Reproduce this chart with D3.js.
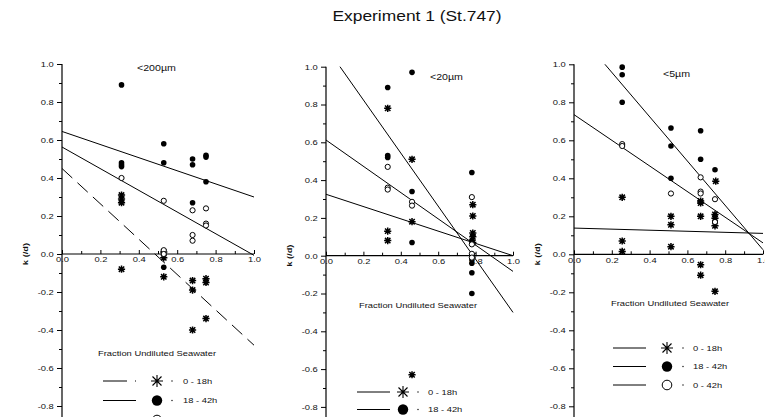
<!DOCTYPE html>
<html>
<head>
<meta charset="utf-8">
<script src="https://cdn.jsdelivr.net/npm/d3@7"></script>
<style>
body { margin: 0; background: #fff; }
text { font-family: "Liberation Sans", Arial, sans-serif; fill: #111; }
</style>
</head>
<body>
<script>
// series names and tick labels
var groups = ["0 - 18h", "18 - 42h", "0 - 42h"]
var panelNames = ["<200µm", "<20µm", "<5µm"]
var xTicks = [0, 0.2, 0.4, 0.6, 0.8, 1.0]
var yTicks = [-0.8, -0.6, -0.4, -0.2, 0, 0.2, 0.4, 0.6, 0.8, 1.0]

// <200µm : fraction undiluted seawater (x) vs k (/d)
var p1StarX = [0.31, 0.31, 0.31, 0.31, 0.53, 0.53, 0.53, 0.68, 0.68, 0.68, 0.75, 0.75, 0.75]
var p1StarK = [0.31, 0.29, 0.27, -0.08, 0.01, -0.02, -0.12, -0.14, -0.19, -0.40, -0.13, -0.15, -0.34]
var p1FillX = [0.31, 0.31, 0.31, 0.31, 0.53, 0.53, 0.53, 0.68, 0.68, 0.68, 0.75, 0.75, 0.75]
var p1FillK = [0.89, 0.48, 0.47, 0.46, 0.58, 0.48, -0.07, 0.50, 0.47, 0.27, 0.52, 0.51, 0.38]
var p1OpenX = [0.31, 0.53, 0.53, 0.53, 0.68, 0.68, 0.68, 0.75, 0.75, 0.75]
var p1OpenK = [0.40, 0.28, 0.02, 0.00, 0.23, 0.10, 0.07, 0.24, 0.16, 0.15]
var p1Icpt = [0.45, 0.645, 0.563]
var p1Slope = [-0.93, -0.345, -0.57]

// <20µm
var p2StarX = [0.33, 0.33, 0.33, 0.46, 0.46, 0.46, 0.785, 0.785, 0.785, 0.785, 0.785, 0.785]
var p2StarK = [0.78, 0.13, 0.08, 0.51, 0.18, -0.63, 0.27, 0.21, 0.12, 0.10, 0.07, 0.00]
var p2FillX = [0.33, 0.33, 0.33, 0.46, 0.46, 0.46, 0.78, 0.78, 0.78, 0.78, 0.78, 0.78]
var p2FillK = [0.89, 0.53, 0.52, 0.97, 0.34, 0.07, 0.44, 0.08, -0.02, -0.04, -0.09, -0.20]
var p2OpenX = [0.33, 0.33, 0.33, 0.46, 0.46, 0.78, 0.78, 0.78, 0.78]
var p2OpenK = [0.47, 0.36, 0.35, 0.285, 0.265, 0.31, 0.06, 0.01, -0.01]
var p2Icpt = [0.325, 1.105, 0.612]
var p2Slope = [-0.325, -1.405, -0.695]

// <5µm
var p3StarX = [0.255, 0.255, 0.255, 0.513, 0.513, 0.513, 0.67, 0.67, 0.67, 0.67, 0.67, 0.75, 0.746, 0.746, 0.746, 0.746]
var p3StarK = [0.30, 0.07, 0.015, 0.20, 0.155, 0.04, 0.28, 0.27, 0.20, -0.055, -0.11, 0.385, 0.21, 0.19, 0.15, -0.195]
var p3FillX = [0.255, 0.255, 0.255, 0.513, 0.513, 0.513, 0.67, 0.67, 0.746]
var p3FillK = [0.985, 0.945, 0.80, 0.665, 0.57, 0.40, 0.65, 0.50, 0.445]
var p3OpenX = [0.255, 0.255, 0.513, 0.67, 0.67, 0.67, 0.746, 0.746]
var p3OpenK = [0.58, 0.57, 0.32, 0.405, 0.33, 0.32, 0.29, 0.17]
var p3Icpt = [0.138, 1.191, 0.735]
var p3Slope = [-0.028, -1.167, -0.675]

var panels = [
    {name: panelNames[0], series: [[p1StarX, p1StarK], [p1FillX, p1FillK], [p1OpenX, p1OpenK]], icpt: p1Icpt, slope: p1Slope},
    {name: panelNames[1], series: [[p2StarX, p2StarK], [p2FillX, p2FillK], [p2OpenX, p2OpenK]], icpt: p2Icpt, slope: p2Slope},
    {name: panelNames[2], series: [[p3StarX, p3StarK], [p3FillX, p3FillK], [p3OpenX, p3OpenK]], icpt: p3Icpt, slope: p3Slope}
]

// layout of each panel (pixels)
var layout = [
    {left: 62, right: 254, top: 64, zero: 254, lab: [137, 71], frac: [157, 356], leg: [103, 381, 19.5], legOff: [54, 69, 80], dashFirst: true},
    {left: 326, right: 513, top: 66.7, zero: 255.7, lab: [430, 80], frac: [418, 308], leg: [357, 392, 17.5], legOff: [46, 61, 71], dashFirst: false},
    {left: 574, right: 763, top: 64.3, zero: 254.3, lab: [663, 77], frac: [670, 306], leg: [613, 348, 18.5], legOff: [54, 70, 80], dashFirst: false}
]

var W = 765, H = 417
var SX = 1.25   // the figure's text is stretched sideways
var svg = d3.select("body").append("svg").attr("width", W).attr("height", H)

function label(g, x, y, s, size, anchor, sx)
{
    return g.append("text").attr("transform", "translate(" + x + "," + y + ") scale(" + (sx || SX) + ",1)")
        .attr("text-anchor", anchor || "start").style("font-size", size + "px").text(s)
}

function marker(g, type, cx, cy, big)
{
    if(type == 0)
    {
        var s = big ? 6 : 3.6, d = s * 0.75
        g.append("path").attr("transform", "translate(" + cx + "," + cy + ")")
            .attr("d", "M" + (-s) + ",0H" + s + "M0," + (-s) + "V" + s + "M" + (-d) + "," + (-d) + "L" + d + "," + d + "M" + (-d) + "," + d + "L" + d + "," + (-d))
            .attr("stroke", "#000").attr("stroke-width", big ? 1.1 : 1.5).attr("fill", "none")
    }
    else if(type == 1)
    {
        g.append("circle").attr("cx", cx).attr("cy", cy).attr("r", big ? 5.2 : 2.8).attr("fill", "#000")
    }
    else
    {
        g.append("circle").attr("cx", cx).attr("cy", cy).attr("r", big ? 4.8 : 2.6)
            .attr("fill", "#fff").attr("stroke", "#000").attr("stroke-width", 1)
    }
}

label(svg, 417, 21, "Experiment 1 (St.747)", 15, "middle", 1.16)

var fmt = function(d) { return d.toFixed(1) }

panels.forEach(function(p, i)
{
    var L = layout[i]
    var x = d3.scaleLinear().domain([0, 1]).range([L.left, L.right])
    var y = d3.scaleLinear().domain([0, 1]).range([L.zero, L.top])
    var g = svg.append("g")

    // y axis: line runs off the bottom of the picture
    g.append("line").attr("x1", L.left).attr("x2", L.left).attr("y1", y(1)).attr("y2", y(-0.95))
        .attr("stroke", "#000").attr("stroke-width", 1.2)
    var yMinor = d3.range(-0.9, 1.0, 0.2)
    g.append("g").attr("transform", "translate(" + L.left + ",0)")
        .call(d3.axisLeft(y).tickValues(yMinor).tickSize(3).tickFormat(""))
        .call(function(a) { a.select(".domain").remove() })
    var ya = g.append("g").attr("transform", "translate(" + L.left + ",0)")
        .call(d3.axisLeft(y).tickValues(yTicks).tickSize(5).tickPadding(1.6).tickFormat(fmt))
    ya.select(".domain").remove()
    ya.selectAll("text").attr("transform", "scale(" + SX + ",1)").style("font-size", "7.5px").attr("fill", null)

    // x axis sits on k = 0, ticks point up
    g.append("line").attr("x1", x(0)).attr("x2", x(1)).attr("y1", y(0)).attr("y2", y(0))
        .attr("stroke", "#000").attr("stroke-width", 1.2)
    var xMinor = d3.range(0.1, 1.0, 0.2)
    g.append("g").attr("transform", "translate(0," + y(0) + ")")
        .call(d3.axisBottom(x).tickValues(xMinor).tickSize(-3).tickFormat(""))
        .call(function(a) { a.select(".domain").remove() })
    var xa = g.append("g").attr("transform", "translate(0," + y(0) + ")")
        .call(d3.axisBottom(x).tickValues(xTicks).tickSize(-4).tickPadding(3).tickFormat(fmt))
    xa.select(".domain").remove()
    xa.selectAll("text").attr("transform", "scale(" + SX + ",1)").style("font-size", "7.5px").attr("fill", null)

    g.selectAll(".tick line").attr("stroke", "#000").attr("stroke-width", 1)

    // axis title and panel label
    g.append("text").attr("transform", "translate(" + (L.left - 34) + "," + y(0) + ") rotate(-90) scale(" + SX + ",1)")
        .attr("text-anchor", "middle").style("font-size", "7.5px").style("font-weight", "bold").text("k (/d)")
    label(g, L.lab[0], L.lab[1], p.name, 8.5)
    label(g, L.frac[0], L.frac[1], "Fraction Undiluted Seawater", 7.5, "middle")

    // regression lines, cut at k = 1.0
    p.icpt.forEach(function(b, j)
    {
        var m = p.slope[j]
        var x0 = b > 1 ? (1 - b) / m : 0
        g.append("line").attr("x1", x(x0)).attr("y1", y(b + m * x0)).attr("x2", x(1)).attr("y2", y(b + m))
            .attr("stroke", "#000").attr("stroke-width", 1)
            .attr("stroke-dasharray", (j == 0 && L.dashFirst) ? "14,7" : null)
    })

    // points
    p.series.forEach(function(s, j)
    {
        s[0].forEach(function(v, n) { marker(g, j, x(v), y(s[1][n]), false) })
    })

    // legend
    groups.forEach(function(name, j)
    {
        var ly = L.leg[1] + j * L.leg[2]
        g.append("line").attr("x1", L.leg[0]).attr("x2", L.leg[0] + 33).attr("y1", ly).attr("y2", ly)
            .attr("stroke", "#000").attr("stroke-width", 1)
            .attr("stroke-dasharray", (j == 0 && L.dashFirst) ? "24,8" : null)
        marker(g, j, L.leg[0] + L.legOff[0], ly, true)
        g.append("circle").attr("cx", L.leg[0] + L.legOff[1]).attr("cy", ly).attr("r", 0.7).attr("fill", "#000")
        label(g, L.leg[0] + L.legOff[2], ly + 2.7, name, 7.5)
    })
})
</script>
</body>
</html>
